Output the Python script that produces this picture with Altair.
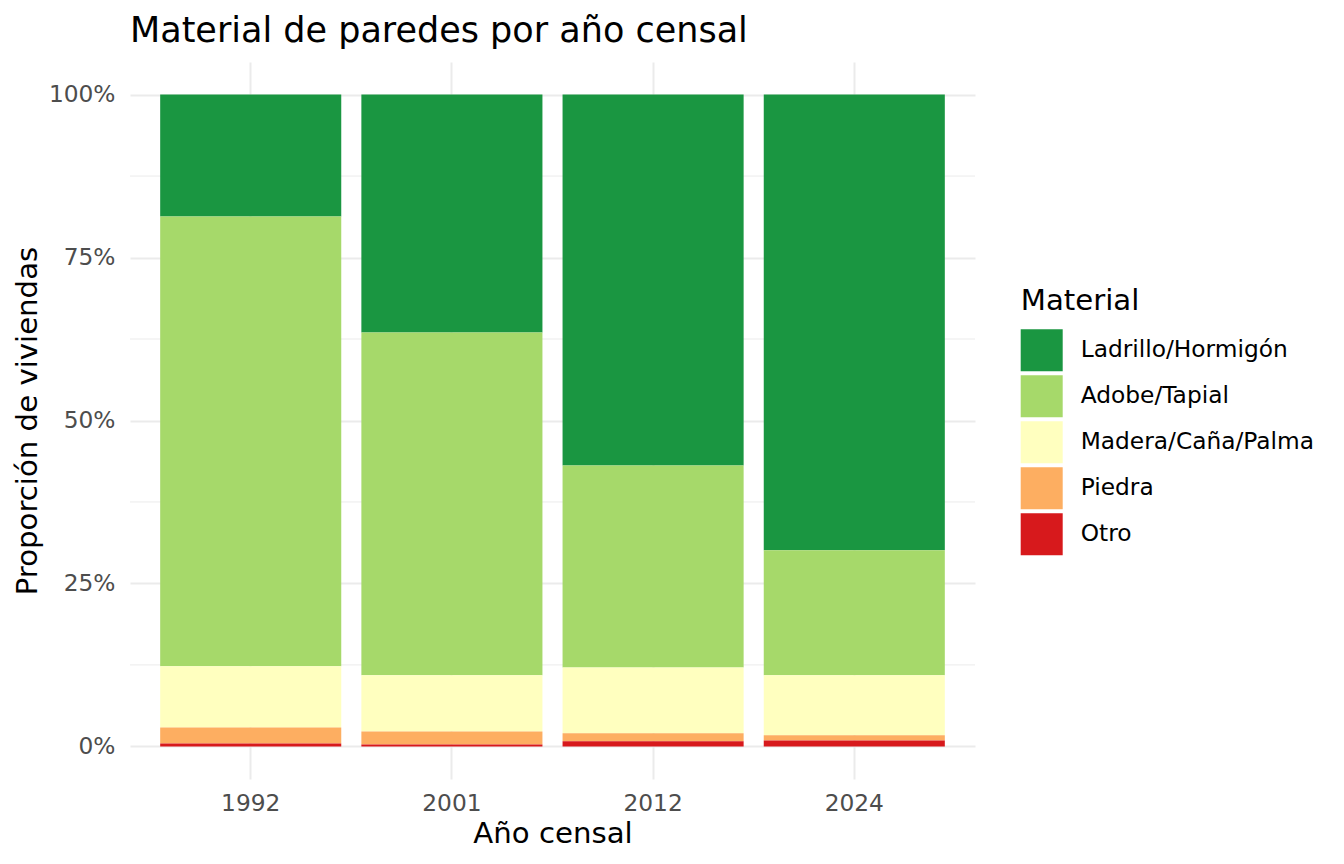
import altair as alt
import pandas as pd

# ---- data (percent of dwellings) ----
years = ["1992", "2001", "2012", "2024"]
materials = ["Ladrillo/Hormigón", "Adobe/Tapial", "Madera/Caña/Palma", "Piedra", "Otro"]
ladrillo = [18.7, 36.5, 56.9, 69.9]
adobe = [69.0, 52.6, 31.0, 19.2]
madera = [9.4, 8.6, 10.1, 9.2]
piedra = [2.45, 2.0, 1.2, 0.8]
otro = [0.45, 0.3, 0.8, 0.9]
colors = ["#1a9641", "#a6d96a", "#ffffbf", "#fdae61", "#d7191c"]
y_major = [0, 0.25, 0.5, 0.75, 1.0]
y_minor = [0.125, 0.375, 0.625, 0.875]

series = [ladrillo, adobe, madera, piedra, otro]
rows = []
for m_i, (mat, vals) in enumerate(zip(materials, series)):
    for yr, v in zip(years, vals):
        rows.append({"year": yr, "material": mat, "share": v / 100.0,
                     "stack_order": len(materials) - 1 - m_i})
df = pd.DataFrame(rows)
minor_df = pd.DataFrame({"share": y_minor})

FONT = "DejaVu Sans"
GRID = "#ebebeb"
LABEL_SIZE = 23.3
TITLE_SIZE = 29.2
yscale = alt.Scale(domain=[-0.05, 1.05], nice=False, zero=False)

yaxis = alt.Axis(
    title="Proporción de viviendas",
    values=y_major,
    format=".0%",
    ticks=False,
    tickSize=0,
    domain=False,
    labelPadding=15,
    grid=True,
    gridColor=GRID,
    gridWidth=2,
    labelFont=FONT,
    labelFontSize=LABEL_SIZE,
    labelColor="#4d4d4d",
    titleFont=FONT,
    titleFontSize=TITLE_SIZE,
    titleFontWeight="normal",
    titleColor="black",
    titleAngle=270,
    titleX=-88,
    titleY=358.5,
    titleAlign="center",
    titleBaseline="bottom",
)

minor = alt.Chart(minor_df).mark_rule(color=GRID, strokeWidth=1).encode(
    y=alt.Y("share:Q", scale=yscale, axis=yaxis)
)

bars = alt.Chart(df).mark_bar(strokeWidth=0).encode(
    x=alt.X(
        "year:N",
        sort=years,
        scale=alt.Scale(paddingInner=0.1, paddingOuter=0.15),
        axis=alt.Axis(
            title="Año censal",
            labelAngle=0,
            ticks=False,
            tickSize=0,
            domain=False,
            labelPadding=13,
            bandPosition=0.5,
            grid=True,
            gridColor=GRID,
            gridWidth=2,
            labelFont=FONT,
            labelFontSize=LABEL_SIZE,
            labelColor="#4d4d4d",
            titleFont=FONT,
            titleFontSize=TITLE_SIZE,
            titleFontWeight="normal",
            titleColor="black",
            titleX=422.5,
            titleY=63.4,
            titleBaseline="alphabetic",
            titleAlign="center",
        ),
    ),
    y=alt.Y("share:Q", stack="zero", scale=yscale, axis=yaxis),
    color=alt.Color(
        "material:N",
        scale=alt.Scale(domain=materials, range=colors),
        legend=alt.Legend(
            title="Material",
            orient="none",
            legendX=890.7,
            legendY=225,
            padding=0,
            titleFont=FONT,
            titleFontSize=TITLE_SIZE,
            titleFontWeight="normal",
            titleColor="black",
            titlePadding=13,
            symbolType="square",
            symbolSize=1764,
            symbolStrokeWidth=0,
            symbolOpacity=1,
            labelFont=FONT,
            labelFontSize=LABEL_SIZE,
            labelColor="black",
            labelOffset=18,
            labelLimit=400,
            rowPadding=4,
        ),
    ),
    order=alt.Order("stack_order:Q", sort="ascending"),
)

chart = alt.layer(minor, bars).properties(
    width=845,
    height=717,
    title=alt.TitleParams(
        text="Material de paredes por año censal",
        anchor="start",
        frame="group",
        font=FONT,
        fontSize=35,
        fontWeight="normal",
        color="black",
        offset=13,
    ),
    autosize=alt.AutoSizeParams(type="none"),
    padding={"left": 122, "top": 54, "right": 361, "bottom": 77},
).configure_view(stroke=None)

chart.save("out.html", embed_options={"renderer": "svg", "actions": False})
